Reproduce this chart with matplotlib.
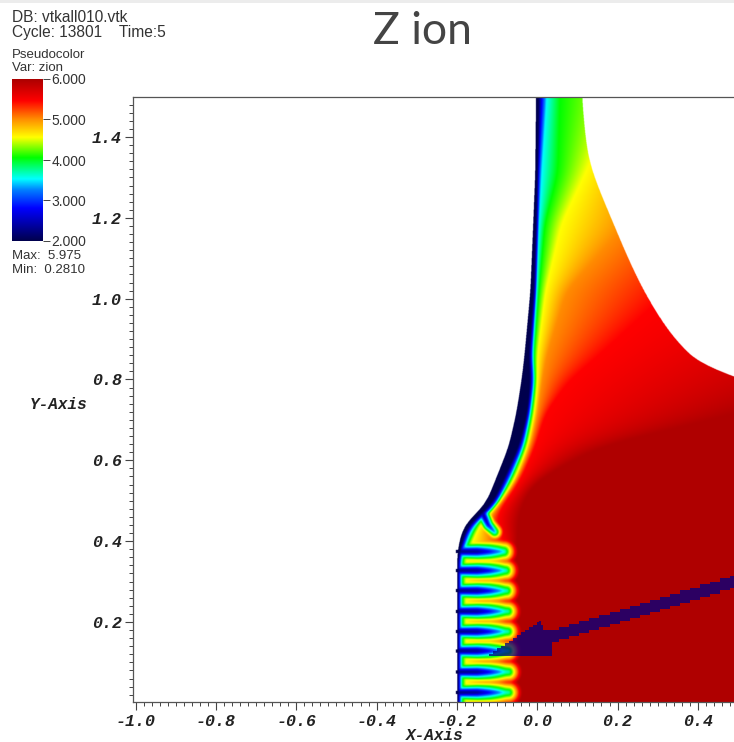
import numpy as np
from matplotlib import pyplot as plt
from matplotlib.colors import LinearSegmentedColormap
from matplotlib.patches import Rectangle
from matplotlib.ticker import MultipleLocator

W, H = 734, 742

# colour table
bar_values = [2.0, 2.8, 3.25, 3.52, 4.05, 4.55, 5.0, 5.45, 6.0]
bar_colors = ['#00004d', '#0000ff', '#0080ff', '#00ffff', '#00ff00', '#ffff00',
              '#ff8c00', '#ff0000', '#a80000']
bar_ticks = ['6.000', '5.000', '4.000', '3.000', '2.000']

# iso-value positions (x) along the interface, one entry per row_y
row_y = [0.0, 0.37, 0.386, 0.42, 0.45, 0.46, 0.47, 0.482, 0.51, 0.551, 0.634, 0.717, 0.799, 0.857, 1.02, 1.187, 1.311, 1.5]
x_left = [-0.2, -0.2, -0.197, -0.19, -0.176, -0.165, -0.152, -0.134, -0.122, -0.105, -0.072, -0.053, -0.04, -0.033, -0.018, -0.011, -0.006, -0.004]
x_dark = [-0.198, -0.198, -0.19, -0.182, -0.168, -0.15, -0.135, -0.12, -0.104, -0.085, -0.047, -0.026, -0.018, -0.022, -0.01, -0.004, 0.0, 0.002]
x_blue = [-0.195, -0.195, -0.186, -0.176, -0.162, -0.14, -0.125, -0.114, -0.098, -0.078, -0.041, -0.022, -0.013, -0.017, -0.005, 0.0, 0.002, 0.011]
x_cyan = [-0.19, -0.19, -0.18, -0.168, -0.156, -0.133, -0.118, -0.11, -0.093, -0.07, -0.035, -0.018, -0.008, -0.013, -0.003, 0.003, 0.01, 0.023]
x_green = [-0.186, -0.186, -0.175, -0.16, -0.152, -0.128, -0.115, -0.107, -0.09, -0.067, -0.031, -0.014, -0.005, -0.009, 0.003, 0.018, 0.05, 0.056]
x_yellow = [-0.178, -0.178, -0.168, -0.15, -0.145, -0.122, -0.112, -0.103, -0.085, -0.058, -0.025, -0.008, 0.0, -0.001, 0.02, 0.06, 0.119, 0.2]
x_orange = [-0.118, -0.118, -0.12, -0.12, -0.13, -0.115, -0.108, -0.1, -0.08, -0.052, -0.018, 0.0, 0.011, 0.022, 0.072, 0.22, 0.25, 0.4]
x_red = [-0.082, -0.082, -0.082, -0.09, -0.105, -0.1, -0.098, -0.09, -0.07, -0.043, -0.006, 0.02, 0.08, 0.15, 0.33, 0.5, 0.6, 0.8]
x_deep = [-0.055, -0.055, -0.05, -0.05, -0.05, -0.045, -0.045, -0.04, -0.03, 0.0, 0.15, 0.5, 0.75, 0.9, 1.5, 1.5, 1.6, 1.8]
knot_z = [2.0, 2.0, 2.8, 3.52, 4.05, 4.55, 5.0, 5.45, 5.95]

# right hand free surface
edge_y = [0.0, 0.78, 0.8, 0.816, 0.857, 0.923, 1.02, 1.104, 1.187, 1.253, 1.311, 1.36, 1.41, 1.5]
edge_x = [0.9, 0.62, 0.487, 0.43, 0.38, 0.322, 0.263, 0.223, 0.188, 0.16, 0.137, 0.124, 0.118, 0.11]

# the fingers at the bottom of the interface
finger_y = [0.374, 0.327, 0.277, 0.226, 0.176, 0.128, 0.076, 0.025]
finger_tip = [-0.07, -0.065, -0.063, -0.06, -0.06, -0.06, -0.058, -0.058]
core_x = [-0.2, -0.15, -0.118, -0.098, -0.08, -0.06]
core_z = [2.0, 2.15, 2.7, 3.1, 3.5, 3.7]
core_w = [0.028, 0.033, 0.036, 0.036, 0.034, 0.032]

# the hook under the neck
hook_x = [-0.135, -0.123, -0.107]
hook_y = [0.465, 0.44, 0.423]
hook_z = [2.2, 2.6, 3.2]
hook_w = 0.026

# stepped low value sliver
sliver_x = [-0.12, -0.11, -0.1, -0.09, -0.08, -0.07, -0.06, -0.05, -0.04, -0.03, -0.02, -0.01, 0.0, 0.005, 0.01, 0.015,
            0.036, 0.055, 0.08, 0.105, 0.13, 0.155, 0.18, 0.205, 0.23, 0.255, 0.28, 0.305, 0.33, 0.355, 0.38, 0.405,
            0.43, 0.455, 0.48, 0.5]
sliver_top = [0.122, 0.128, 0.135, 0.141, 0.148, 0.154, 0.161, 0.167, 0.174, 0.18, 0.187, 0.193, 0.2, 0.203, 0.192, 0.18,
              0.18, 0.187, 0.195, 0.203, 0.21, 0.218, 0.225, 0.233, 0.24, 0.248, 0.255, 0.263, 0.27, 0.278, 0.285, 0.293,
              0.3, 0.308, 0.315, 0.318]
sliver_bot = [0.1166, 0.1166, 0.1166, 0.1166, 0.1166, 0.1166, 0.1166, 0.1166, 0.1166, 0.1166, 0.1166, 0.1166, 0.1166, 0.1166, 0.1166, 0.1166,
              0.151, 0.158, 0.165, 0.173, 0.18, 0.188, 0.195, 0.203, 0.21, 0.218, 0.225, 0.233, 0.24, 0.248, 0.255, 0.263,
              0.27, 0.278, 0.285, 0.291]

x_ticks = [-1.0, -0.8, -0.6, -0.4, -0.2, 0.0, 0.2, 0.4]
y_ticks = [0.2, 0.4, 0.6, 0.8, 1.0, 1.2, 1.4]

cmap = LinearSegmentedColormap.from_list(
    'visit', [((v - 2.0) / 4.0, c) for v, c in zip(bar_values, bar_colors)], N=512)
cmap.set_bad('white')


def segment_field(X, Y, x0, y0, x1, y1):
    dx, dy = x1 - x0, y1 - y0
    t = np.clip(((X - x0) * dx + (Y - y0) * dy) / (dx * dx + dy * dy), 0, 1)
    d = np.hypot(X - x0 - t * dx, Y - y0 - t * dy)
    return t, d


def smooth_rows(values, size=41):
    # rounds the corners of the hand read contours
    box = np.ones(size) / size
    padded = np.pad(values, size, mode='edge')
    padded = np.convolve(np.convolve(padded, box, mode='same'), box, mode='same')
    return padded[size:-size]


def blur(Z, size=7):
    # the picture is a little soft, and min() of two fields leaves hard creases
    box = np.ones(size) / size
    Z = np.apply_along_axis(lambda r: np.convolve(np.pad(r, size, mode='edge'), box, mode='same')[size:-size], 1, Z)
    Z = np.apply_along_axis(lambda c: np.convolve(np.pad(c, size, mode='edge'), box, mode='same')[size:-size], 0, Z)
    return Z


def build_field():
    xs = np.linspace(-0.22, 0.49, 1000)
    ys = np.linspace(0.002, 1.499, 1300)
    X, Y = np.meshgrid(xs, ys)
    columns = [x_left, x_dark, x_blue, x_cyan, x_green, x_yellow, x_orange, x_red, x_deep]
    knots = np.array([smooth_rows(np.interp(ys, row_y, col)) for col in columns])
    Z = np.zeros(X.shape)
    for i in range(len(ys)):
        Z[i] = np.interp(xs, knots[:, i], knot_z)
    left = knots[0]
    right = smooth_rows(np.interp(ys, edge_y, edge_x), 61)
    bumps = np.zeros(X.shape, dtype=bool)
    for yc, tip in zip(finger_y, finger_tip):
        t, d = segment_field(X, Y, -0.2, yc, tip - 0.014, yc)
        px = -0.2 + t * (tip - 0.014 + 0.2)
        z0 = np.interp(px, core_x, core_z)
        w = np.interp(px, core_x, core_w)
        Z = np.minimum(Z, z0 + (5.95 - z0) * np.clip(d / w, 0, 1))
        bumps |= (np.abs(Y - yc) < 0.004) & (X > -0.203)
    for k in range(len(hook_x) - 1):
        t, d = segment_field(X, Y, hook_x[k], hook_y[k], hook_x[k + 1], hook_y[k + 1])
        z0 = hook_z[k] + t * (hook_z[k + 1] - hook_z[k])
        Z = np.minimum(Z, z0 + (5.95 - z0) * np.clip(d / hook_w, 0, 1))
    Z = blur(Z)
    mask = ((X < left[:, None]) & ~bumps) | (X > right[:, None])
    return xs, ys, np.ma.masked_where(mask, Z)


def fx(px):
    return px / W


def fy(py):
    return 1 - py / H


fig = plt.figure(figsize=(W / 100, H / 100), dpi=100, facecolor='white')
fig.add_artist(Rectangle((0, fy(3)), 1, 3 / H, transform=fig.transFigure, color='#ececec', lw=0))

ax = fig.add_axes([fx(133), fy(702), 601 / W, 605 / H])
xs, ys, field = build_field()
ax.imshow(field, extent=[xs[0], xs[-1], ys[0], ys[-1]], origin='lower', cmap=cmap, vmin=2, vmax=6,
          aspect='auto', interpolation='bilinear')
ax.fill_between(sliver_x, sliver_bot, sliver_top, step='post', color='#000084', alpha=0.75, lw=0)

ax.set_xlim(-1.0065, 0.49)
ax.set_ylim(0.002, 1.499)
ax.set_xticks(x_ticks)
ax.set_yticks(y_ticks)
tick_font = dict(family='Liberation Mono', fontsize=12, fontweight='bold', fontstyle='italic', color='#222222')
ax.set_xticklabels(['%.1f' % v for v in x_ticks], **tick_font)
ax.set_yticklabels(['%.1f' % v for v in y_ticks], **tick_font)
ax.xaxis.set_minor_locator(MultipleLocator(0.02))
ax.yaxis.set_minor_locator(MultipleLocator(0.02))
ax.tick_params(axis='x', which='major', length=6, width=0.8, color='#444444', pad=3)
ax.tick_params(axis='y', which='major', length=6, width=0.8, color='#444444', pad=2)
ax.tick_params(which='minor', length=3, width=0.7, color='#444444')
ax.spines['right'].set_visible(False)
for side in ['top', 'left', 'bottom']:
    ax.spines[side].set_color('#555555')
    ax.spines[side].set_linewidth(0.9)

label_font = dict(tick_font, fontsize=11.5)
fig.text(fx(435), fy(735), 'X-Axis', ha='center', va='center', **label_font)
fig.text(fx(59), fy(404), 'Y-Axis', ha='center', va='center', **label_font)

fig.text(fx(422), fy(32), 'Z ion', ha='center', va='center', family='Lato', fontsize=32, color='#444444')

info_font = dict(family='Liberation Sans', color='#333333', va='center', ha='left')
fig.text(fx(12), fy(18), 'DB: vtkall010.vtk', fontsize=11.2, **info_font)
fig.text(fx(12), fy(32), 'Cycle: 13801    Time:5', fontsize=11.2, **info_font)
fig.text(fx(12), fy(55), 'Pseudocolor', fontsize=9.5, **info_font)
fig.text(fx(12), fy(68), 'Var: zion', fontsize=9.5, **info_font)
fig.text(fx(12), fy(256), 'Max:  5.975', fontsize=9.5, **info_font)
fig.text(fx(12), fy(270), 'Min:  0.2810', fontsize=9.5, **info_font)

cax = fig.add_axes([fx(12), fy(241), 31 / W, 162 / H])
cax.imshow(np.linspace(2, 6, 256)[:, None], origin='lower', extent=[0, 1, 2, 6], cmap=cmap, vmin=2, vmax=6, aspect='auto')
cax.set_xticks([])
cax.yaxis.tick_right()
cax.set_yticks([6, 5, 4, 3, 2])
cax.set_yticklabels(bar_ticks, family='Liberation Sans', fontsize=10, color='#333333')
cax.tick_params(axis='y', length=5, width=0.7, color='#444444', pad=1)
for side in cax.spines.values():
    side.set_visible(False)

fig.savefig('out.png', dpi=100)
